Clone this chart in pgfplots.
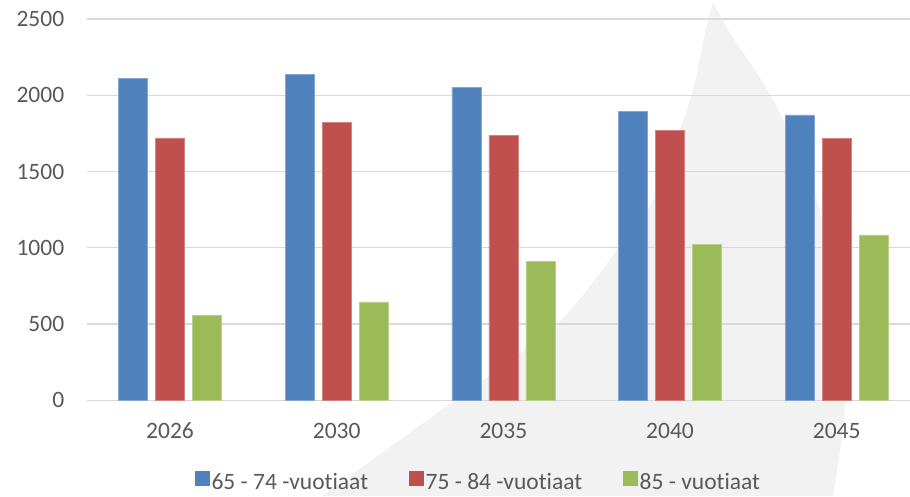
\documentclass[border=0pt]{standalone}
\usepackage{pgfplots}
\pgfplotsset{compat=1.18}
\usepackage{fontspec}
\setmainfont{Carlito}[Ligatures={NoCommon}]
\definecolor{cblue}{HTML}{4F81BD}
\definecolor{cred}{HTML}{C0504D}
\definecolor{cgreen}{HTML}{9BBB59}
\definecolor{ctext}{HTML}{595959}
\definecolor{cgrid}{HTML}{D9D9D9}
\definecolor{cwm}{HTML}{F2F2F2}
\begin{document}
\begin{tikzpicture}[x=1pt,y=1pt]
\useasboundingbox (0,0) rectangle (910,496);
% decorative background shape
\fill[cwm] plot[smooth, tension=0.5] coordinates {(322,0) (455,96) (557,172) (617,246) (653,296) (690,396) (705,463) (713,494)}
 -- plot[smooth, tension=0.5] coordinates {(713,494) (730,463) (773,396) (817,296) (835,196) (845,96) (833,0)} -- cycle;
\begin{axis}[
  at={(86.7pt,95.7pt)}, anchor=south west, scale only axis,
  width=823.3pt, height=381.3pt,
  xmin=-0.5, xmax=4.44, ymin=0, ymax=2500,
  ybar=8pt, bar width=29pt,
  axis x line=bottom, axis y line=left,
  x axis line style={draw=cgrid, line width=1.2pt, -},
  y axis line style={draw=none},
  major tick length=0pt,
  ytick={0,500,1000,1500,2000,2500},
  ymajorgrids, major grid style={draw=cgrid, line width=1.2pt},
  xtick={0,1,2,3,4},
  xticklabels={2026,2030,2035,2040,2045},
  /pgf/number format/assume math mode=true,
  /pgf/number format/1000 sep={},
  tick label style={font=\fontsize{23.5}{28}\selectfont, text=ctext},
  yticklabel style={xshift=-19pt},
  xticklabel style={yshift=-19pt},
  legend style={at={(0.476,-0.213)}, anchor=center, draw=none, fill=none,
    font=\fontsize{23.5}{28}\selectfont, text=ctext, legend columns=3,
    /tikz/every even column/.append style={column sep=39pt},
    nodes={inner xsep=2pt, inner ysep=1pt}},
  legend image code/.code={\fill[#1,draw=none] (0pt,-4pt) rectangle (14.5pt,10.5pt);},
  clip=false,
]
\addplot[fill=cblue, draw=cblue!70!white, line width=0.6pt] coordinates {(0,2108) (1,2135) (2,2050) (3,1895) (4,1871)};
\addplot[fill=cred, draw=cred!70!white, line width=0.6pt] coordinates {(0,1720) (1,1823) (2,1737) (3,1768) (4,1718)};
\addplot[fill=cgreen, draw=cgreen!70!white, line width=0.6pt] coordinates {(0,559) (1,645) (2,913) (3,1023) (4,1084)};
\legend{65 - 74 -vuotiaat, 75 - 84 -vuotiaat, 85 - vuotiaat}
\end{axis}
\end{tikzpicture}
\end{document}
